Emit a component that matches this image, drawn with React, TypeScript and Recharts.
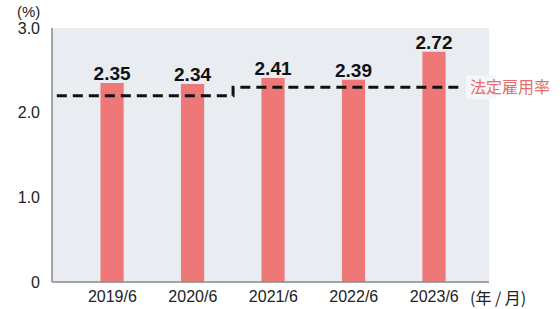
import React from 'react';
import { ComposedChart, Bar, Line, XAxis, YAxis, CartesianGrid, LabelList } from 'recharts';

const periods = ['2019/6', '2020/6', '2021/6', '2022/6', '2023/6'];
const employmentRates = [2.35, 2.34, 2.41, 2.39, 2.72];

// statutory rate: 2.2% until the 2021 change, 2.3% afterwards
const legalPos = [-0.69, 1.5, 1.5, 4.32];
const legalRates = [2.2, 2.2, 2.3, 2.3];
const legalLabel = '法定雇用率';

const yTicks = [0, 1, 2, 3];

const FONT = '"Liberation Sans", Arial, "Noto Sans CJK JP", sans-serif';

const barData = employmentRates.map((v, i) => ({ idx: i, rate: v }));
const legalData = legalRates.map((v, i) => ({ idx: legalPos[i], legal: v }));

const LegalTag = (props: any) => {
  const { x, y, index } = props;
  if (index !== legalData.length - 1) return null;
  return (
    <g>
      <rect x={x + 6} y={y - 12} width={30} height={24} fill="#F4F6F8" />
      <text x={x + 10} y={y} dy="0.35em" fontSize={16} fill="#E36F6F" fontFamily='"Noto Sans CJK JP", sans-serif'>
        {legalLabel}
      </text>
    </g>
  );
};

export default function App() {
  return (
    <div style={{ position: 'absolute', left: 0, top: 0, width: 560, height: 309, background: '#fff', fontFamily: FONT }}>
      <ComposedChart width={560} height={309} data={barData} margin={{ top: 28, right: 71, bottom: 0, left: 0 }}>
        <CartesianGrid fill="#E9ECF1" stroke="none" horizontal={false} vertical={false} />
        <XAxis
          type="number"
          dataKey="idx"
          height={27}
          domain={[-0.75, 4.68]}
          ticks={[0, 1, 2, 3, 4]}
          tickFormatter={(v: number) => periods[v]}
          axisLine={{ stroke: '#888', strokeWidth: 1.5 }}
          tickLine={false}
          tickSize={0}
          tickMargin={9}
          tick={{ fill: '#222', fontSize: 16, fontFamily: FONT }}
          allowDataOverflow
        />
        <YAxis
          width={52}
          domain={[0, 3]}
          ticks={yTicks}
          tickFormatter={(v: number) => (v === 0 ? '0' : v.toFixed(1))}
          axisLine={{ stroke: '#888', strokeWidth: 1.5 }}
          tickLine={false}
          tickSize={0}
          tickMargin={12}
          tick={{ fill: '#222', fontSize: 16, fontFamily: FONT }}
        />
        <Bar dataKey="rate" fill="#EE7777" barSize={27} isAnimationActive={false}>
          <LabelList
            dataKey="rate"
            position="top"
            offset={3}
            formatter={(v: number) => v.toFixed(2)}
            style={{ fontSize: 19, fontWeight: 'bold', fill: '#111', fontFamily: FONT }}
          />
        </Bar>
        <Line
          data={legalData}
          dataKey="legal"
          type="linear"
          stroke="#111"
          strokeWidth={3}
          strokeDasharray="10 6"
          dot={false}
          activeDot={false}
          isAnimationActive={false}
          label={<LegalTag />}
        />
      </ComposedChart>
      <div style={{ position: 'absolute', left: 17, top: 3, fontSize: 15, color: '#222', lineHeight: '18px' }}>(%)</div>
      <div style={{ position: 'absolute', left: 470, top: 288, fontSize: 16, color: '#222', lineHeight: '18px', whiteSpace: 'pre', fontFamily: '"Noto Sans CJK JP", sans-serif' }}>
        (年 / 月)
      </div>
    </div>
  );
}
